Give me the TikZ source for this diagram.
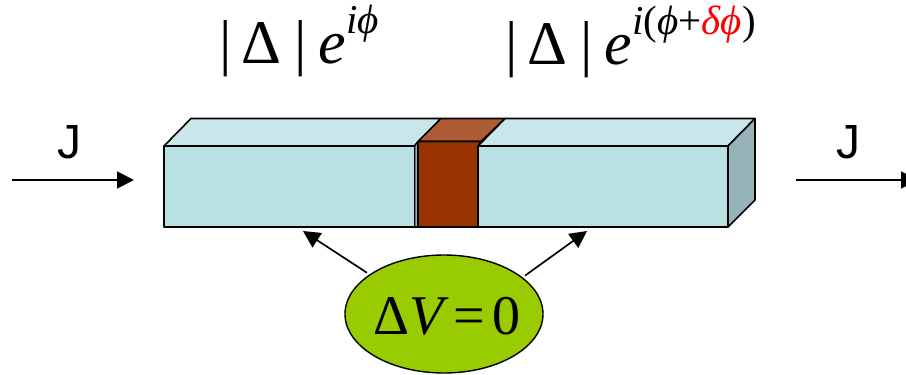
\documentclass[tikz,border=0pt]{standalone}
\usepackage{fontspec}
\usetikzlibrary{arrows.meta,shapes.geometric}
\setmainfont{Liberation Serif}
\newfontfamily\arialf{Liberation Sans}
\definecolor{frontc}{HTML}{B9E0E3}
\definecolor{topc}{HTML}{C9E7EA}
\definecolor{sidec}{HTML}{96B3B7}
\definecolor{brownc}{HTML}{993300}
\definecolor{browntop}{HTML}{AD5C33}
\definecolor{greenc}{HTML}{99CC00}
\newcommand{\bigfs}{\fontsize{62}{62}\selectfont}
\newcommand{\supfs}{\fontsize{41}{41}\selectfont}
\newcommand{\supup}[1]{\raisebox{30pt}{\supfs #1}}
\tikzset{
  face/.style={draw=black,line width=1.6pt,line join=round},
  flow/.style={draw=black,line width=1.7pt,-{Triangle[length=17pt,width=17pt]}},
  eqn/.style={inner sep=0pt,anchor=base west,text=black},
  jlabel/.style={inner sep=0pt,anchor=base,font=\arialf\fontsize{48}{48}\selectfont},
}
\begin{document}
\begin{tikzpicture}[x=1pt,y=-1pt]
\useasboundingbox (0,0) rectangle (906,375);
% left block
\draw[face,fill=topc] (164,146) -- (191,118.5) -- (441,118.5) -- (414.5,146) -- cycle;
\draw[face,fill=sidec] (414.5,146) -- (418,141.5) -- (418,227) -- (414.5,227) -- cycle;
\draw[face,fill=frontc] (164,146) rectangle (414.5,227);
% right block
\draw[face,fill=topc] (478,146) -- (505,118.5) -- (755,118.5) -- (728,146) -- cycle;
\draw[face,fill=sidec] (728,146) -- (755,118.5) -- (755,200) -- (728,227) -- cycle;
\draw[face,fill=frontc] (478,146) rectangle (728,227);
% barrier
\draw[face,fill=browntop] (418,141.5) -- (441,118.5) -- (505,118.5) -- (481,141.5) -- cycle;
\draw[face,fill=brownc] (418,141.5) -- (481,141.5) -- (478,146) -- (478,227) -- (418,227) -- cycle;
% order parameter labels
\node[eqn] (left) at (219,63) {\bigfs|\hskip 10pt Δ\hskip 13pt|\hskip 12pt\itshape e\supup{iϕ}};
\node[eqn] (right) at (505,64) {\bigfs|\hskip 10pt Δ\hskip 13pt|\hskip 12pt\itshape e\supup{i\upshape(\itshape ϕ\upshape+\itshape\textcolor{red}{δϕ}\upshape)}};
% current
\coordinate (jla) at (12,180);
\coordinate (jlb) at (134,180);
\coordinate (jra) at (796,180);
\coordinate (jrb) at (918,180);
\draw[flow] (jla) -- (jlb);
\draw[flow] (jra) -- (jrb);
\node[jlabel] (jl) at (69,158) {J};
\node[jlabel] (jr) at (848,158) {J};
% voltage
\node[ellipse,draw=black,line width=1.4pt,fill=greenc,minimum width=198pt,minimum height=118pt,inner sep=0pt] (volt) at (444,314) {};
\node[inner sep=0pt,anchor=base] (vt) at (447,334) {\fontsize{56}{56}\selectfont Δ\itshape V\upshape\hskip 10pt=\hskip 7pt0};
\coordinate (vl) at (303,231);
\coordinate (vr) at (587,231);
\draw[flow,shorten <=3pt] (volt.152) -- (vl);
\draw[flow,shorten <=3pt] (volt.25) -- (vr);
\end{tikzpicture}
\end{document}
